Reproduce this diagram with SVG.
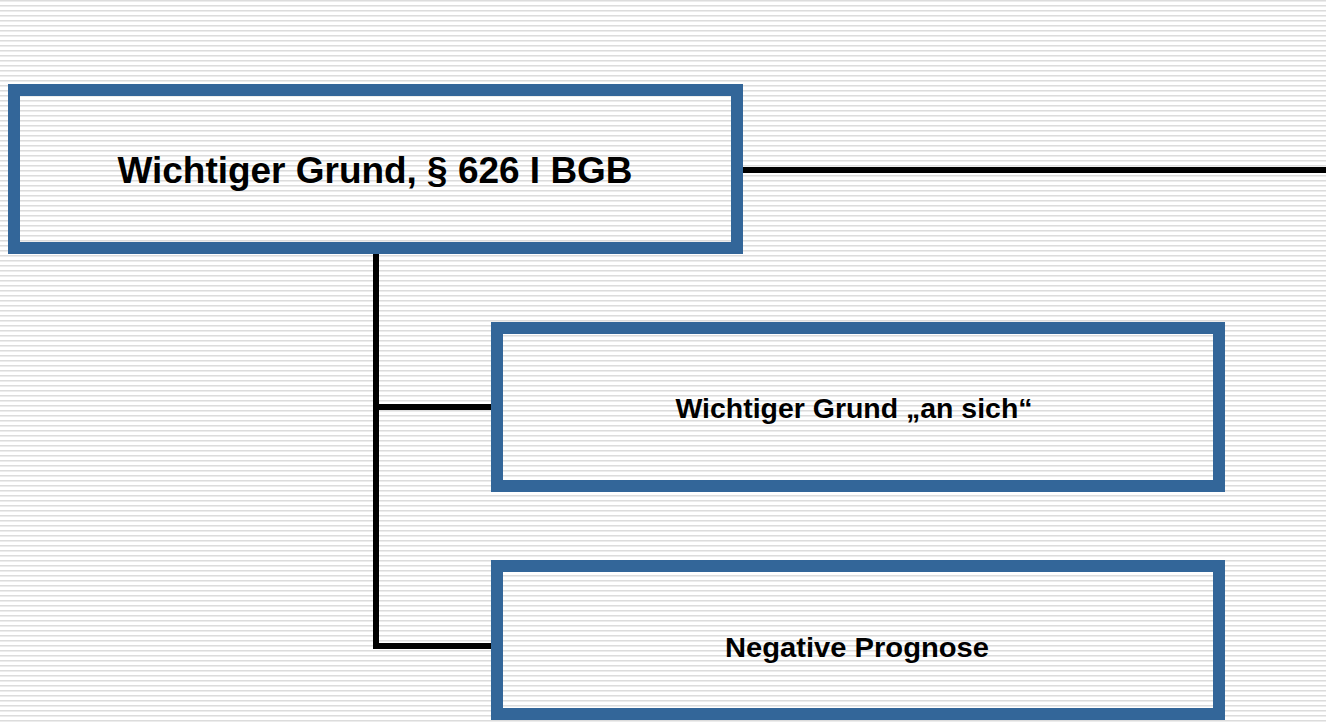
<svg xmlns="http://www.w3.org/2000/svg" width="1326" height="722" viewBox="0 0 1326 722">
  <defs>
    <pattern id="stripes" x="0" y="0" width="10" height="5" patternUnits="userSpaceOnUse">
      <rect x="0" y="0" width="10" height="5" fill="#ffffff"/>
      <rect x="0" y="0" width="10" height="1" fill="#dcdcdc"/>
      <rect x="0" y="1" width="10" height="1" fill="#ececec"/>
    </pattern>
  </defs>
  <style>
    .box { fill: none; stroke: #336699; stroke-width: 12; }
    .conn { fill: none; stroke: #000000; stroke-width: 6; stroke-linejoin: miter; stroke-linecap: butt; }
    .label { font-family: "Liberation Sans", Arial, sans-serif; font-weight: bold; fill: #000000; text-anchor: middle; }
  </style>
  <rect x="0" y="0" width="1326" height="722" fill="url(#stripes)"/>
  <g id="connectors">
    <path class="conn" d="M743 170 H1326"/>
    <path class="conn" d="M376 254 V646 H491"/>
    <path class="conn" d="M376 407 H491"/>
  </g>
  <g id="node-main">
    <rect class="box" x="14" y="90" width="723" height="158"/>
    <text class="label" x="375" y="183" font-size="36" textLength="515" lengthAdjust="spacingAndGlyphs">Wichtiger Grund, § 626 I BGB</text>
  </g>
  <g id="node-ansich">
    <rect class="box" x="497" y="328" width="722" height="158"/>
    <text class="label" x="854" y="418" font-size="28" textLength="357" lengthAdjust="spacingAndGlyphs">Wichtiger Grund „an sich“</text>
  </g>
  <g id="node-prognose">
    <rect class="box" x="497" y="566" width="722" height="148"/>
    <text class="label" x="857" y="657" font-size="28" textLength="264" lengthAdjust="spacingAndGlyphs">Negative Prognose</text>
  </g>
</svg>
